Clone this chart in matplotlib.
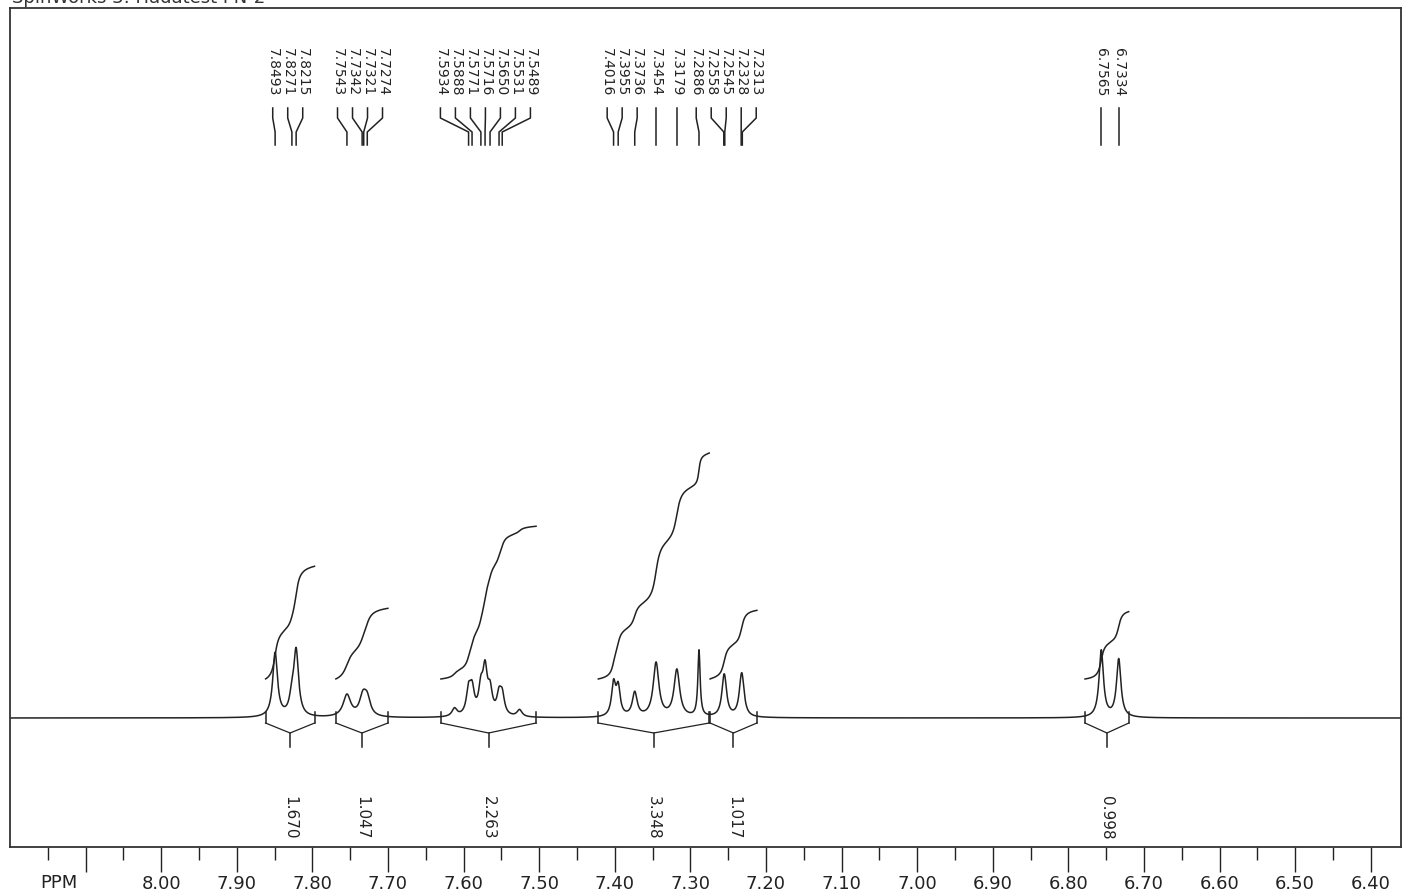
"""1H NMR spectrum (aromatic region) redrawn in a SpinWorks-like style."""

import matplotlib

matplotlib.use("Agg")

import matplotlib.pyplot as plt
import numpy as np


TITLE = "SpinWorks 3: Hadatest PN-2"

# labelled peak positions (ppm)
PEAK_PPM = [
    7.8493, 7.8271, 7.8215,
    7.7543, 7.7342, 7.7321, 7.7274,
    7.5934, 7.5888, 7.5771, 7.5716, 7.5650, 7.5531, 7.5489,
    7.4016, 7.3955, 7.3736, 7.3454, 7.3179, 7.2886,
    7.2558, 7.2545, 7.2328, 7.2313,
    6.7565, 6.7334,
]

# lines used to build the trace: position, height, half-width (ppm)
LINE_PPM = [
    7.8493, 7.8271, 7.8215,
    7.7543, 7.7342, 7.7321, 7.7274,
    7.6120, 7.5934, 7.5888, 7.5771, 7.5716, 7.5650, 7.5531, 7.5489, 7.5260,
    7.4016, 7.3955, 7.3736, 7.3454, 7.3179, 7.2886,
    7.2558, 7.2545, 7.2328, 7.2313,
    6.7565, 6.7334,
]
LINE_HEIGHT = [
    64, 16, 64,
    22, 10, 10, 16,
    8, 24, 24, 25, 43, 23, 19, 19, 7,
    32, 28, 24, 54, 47, 66,
    24, 20, 24, 22,
    67, 58,
]
LINE_WIDTH = [
    0.0038, 0.0038, 0.0038,
    0.0060, 0.0050, 0.0050, 0.0050,
    0.0040, 0.0035, 0.0035, 0.0035, 0.0035, 0.0035, 0.0035, 0.0035, 0.0040,
    0.0032, 0.0032, 0.0038, 0.0045, 0.0045, 0.0018,
    0.0035, 0.0035, 0.0035, 0.0035,
    0.0035, 0.0035,
]

# integral regions (ppm, left to right) and their values
INT_START = [7.862, 7.769, 7.630, 7.422, 7.274, 6.778]
INT_END = [7.797, 7.700, 7.504, 7.275, 7.212, 6.720]
INT_VALUE = [1.670, 1.047, 2.263, 3.348, 1.017, 0.998]

MAJOR_TICKS = [8.10, 8.00, 7.90, 7.80, 7.70, 7.60, 7.50, 7.40, 7.30, 7.20,
               7.10, 7.00, 6.90, 6.80, 6.70, 6.60, 6.50, 6.40]

X_LEFT, X_RIGHT = 8.20, 6.36
PX_PER_PPM = 756.0
INK = "#222222"


def spread_labels(positions, gap):
    """Push sorted label positions apart so they keep at least `gap` between them."""
    clusters = []
    for i, x in enumerate(positions):
        clusters.append([i, 1, x])
        while len(clusters) > 1:
            a, b = clusters[-2], clusters[-1]
            if a[2] + a[1] * gap <= b[2]:
                break
            n = a[1] + b[1]
            first = np.mean([positions[k] - (k - a[0]) * gap for k in range(a[0], a[0] + n)])
            clusters[-2:] = [[a[0], n, first]]
    out = []
    for _, n, first in clusters:
        out.extend(first + k * gap for k in range(n))
    return out


def spectrum(ppm):
    y = np.zeros_like(ppm)
    for p, h, w in zip(LINE_PPM, LINE_HEIGHT, LINE_WIDTH):
        y += h / (1 + ((ppm - p) / w) ** 2)
    return y


def main():
    fig = plt.figure(figsize=(14.08, 8.92), dpi=100, facecolor="white")
    ax = fig.add_axes([10 / 1408, 45 / 892, 1391 / 1408, 839 / 892])
    ax.set_xlim(X_LEFT, X_RIGHT)
    ax.set_ylim(-129, 710)

    ppm = np.linspace(X_LEFT, X_RIGHT, 8000)
    y = spectrum(ppm)
    ax.plot(ppm, y, color=INK, lw=1.1)

    # integrals: curve, bracket and value
    for start, end, value in zip(INT_START, INT_END, INT_VALUE):
        mask = (ppm <= start) & (ppm >= end)
        seg_x = ppm[mask]
        cum = np.cumsum(y[mask])
        cum = cum / cum[-1]
        ax.plot(seg_x, 39 + 67.5 * value * cum, color=INK, lw=1.1)

        mid = (start + end) / 2
        for edge in (start, end):
            ax.plot([edge, edge], [6, -5], color=INK, lw=1.1)
        ax.plot([start, mid, end], [-5, -15, -5], color=INK, lw=0.9)
        ax.plot([mid, mid], [-15, -29], color=INK, lw=1.1)
        ax.text(mid, -100, f"{value:.3f}", rotation=-90, ha="center", va="center",
                fontsize=11, color=INK)

    # peak labels with connectors
    gap = 15 / PX_PER_PPM
    label_u = spread_labels([-p for p in PEAK_PPM], gap)
    for p, u in zip(PEAK_PPM, label_u):
        lab = -u
        ax.plot([lab, lab, p, p], [610, 600, 586, 573], color=INK, lw=1.1)
        ax.text(lab, 670, f"{p:.4f}", rotation=-90, ha="center", va="top",
                fontsize=10, color=INK)

    ax.set_yticks([])
    ax.set_xticks(MAJOR_TICKS)
    ax.set_xticklabels(["" if t > 8.05 else f"{t:.2f}" for t in MAJOR_TICKS])
    ax.set_xticks([t + 0.05 for t in MAJOR_TICKS], minor=True)
    ax.tick_params(axis="x", which="major", length=18, width=1.0, direction="out",
                   pad=2, labelsize=13, colors=INK)
    ax.tick_params(axis="x", which="minor", length=9, width=1.0, direction="out",
                   colors=INK)
    for spine in ax.spines.values():
        spine.set_color("#333333")
        spine.set_linewidth(1.3)

    fig.text(40 / 1408, 1 - 883 / 892, "PPM", fontsize=13, color=INK, va="center")
    fig.text(12 / 1408, 1 - 3 / 892, TITLE, fontsize=13, color="#333333", va="baseline")

    fig.savefig("out.png", dpi=100, facecolor="white")
    plt.close(fig)


if __name__ == "__main__":
    main()
